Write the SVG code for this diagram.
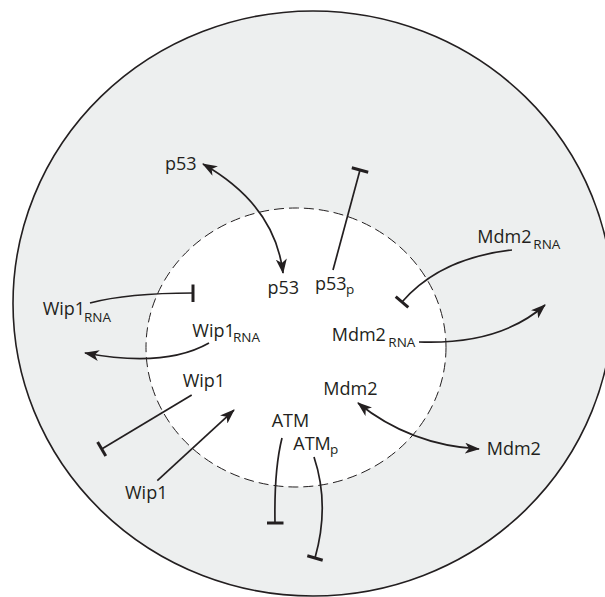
<svg xmlns="http://www.w3.org/2000/svg" width="605" height="597" viewBox="0 0 605 597">
<defs>
<style>
text{font-family:"Open Sans","Noto Sans","DejaVu Sans",sans-serif;font-size:18px;fill:#231f20}
.sub{font-size:13.5px}
.c{fill:none;stroke:#231f20;stroke-width:1.7}
.bar{fill:none;stroke:#231f20;stroke-width:3}
</style>
<marker id="arr" viewBox="0 0 15 11" refX="14" refY="5.5" markerWidth="15" markerHeight="11" markerUnits="userSpaceOnUse" orient="auto-start-reverse">
<path d="M0,0 L15,5.5 L0,11 L4,5.5 z" fill="#231f20"/>
</marker>
</defs>
<rect width="605" height="597" fill="#ffffff"/>
<g id="cell"><ellipse cx="313" cy="303.5" rx="300" ry="292.5" fill="#edefef" stroke="#231f20" stroke-width="1.6"/></g>
<g id="nucleus"><ellipse cx="296" cy="347.5" rx="150" ry="139.5" fill="#ffffff" stroke="#231f20" stroke-width="1" stroke-dasharray="10 5"/></g>
<g id="connectors">
<path class="c" d="M203,164 Q275,205 283,273" marker-start="url(#arr)" marker-end="url(#arr)"/>
<line class="c" x1="333" y1="270" x2="360" y2="170"/>
<line class="bar" x1="351.8" y1="167.8" x2="368.2" y2="172.2"/>
<path class="c" d="M512,250 Q440,258 402,302"/>
<line class="bar" x1="395.7" y1="296.6" x2="408.3" y2="307.4"/>
<path class="c" d="M419,342 Q500,345 545,305" marker-end="url(#arr)"/>
<path class="c" d="M358,403 Q410,445 479,449" marker-start="url(#arr)" marker-end="url(#arr)"/>
<path class="c" d="M90,303 C120,295 160,293 193,293"/>
<line class="bar" x1="193" y1="284.5" x2="193" y2="302"/>
<path class="c" d="M209,343 Q165,368 85,353" marker-end="url(#arr)"/>
<line class="c" x1="191.7" y1="395" x2="101.7" y2="449"/>
<line class="bar" x1="97.6" y1="442.1" x2="105.8" y2="455.9"/>
<line class="c" x1="157.3" y1="480.7" x2="234" y2="410" marker-end="url(#arr)"/>
<path class="c" d="M282,438 Q274,470 275,523"/>
<line class="bar" x1="267" y1="523" x2="283.5" y2="523"/>
<path class="c" d="M314,457 Q330,505 315,558"/>
<line class="bar" x1="307.3" y1="555.8" x2="322.7" y2="560.2"/>
</g>
<g id="p53-cyto"><text x="165" y="170">p53</text></g>
<g id="p53-nuc"><text x="267.5" y="294">p53</text></g>
<g id="p53p-nuc"><text x="315" y="290">p53</text><text class="sub" x="346" y="294">p</text></g>
<g id="wip1rna-cyto"><text x="42.7" y="315">Wip1</text><text class="sub" x="84" y="321.5">RNA</text></g>
<g id="wip1rna-nuc"><text x="192.3" y="336.7">Wip1</text><text class="sub" x="233" y="341.7">RNA</text></g>
<g id="wip1-nuc"><text x="182.7" y="386.5">Wip1</text></g>
<g id="wip1-cyto"><text x="125" y="499.3">Wip1</text></g>
<g id="atm-nuc"><text x="271.7" y="427.3">ATM</text></g>
<g id="atmp-nuc"><text x="293.3" y="450">ATM</text><text class="sub" x="330" y="454.3">p</text></g>
<g id="mdm2-nuc"><text x="323.3" y="395">Mdm2</text></g>
<g id="mdm2-cyto"><text x="486.7" y="455">Mdm2</text></g>
<g id="mdm2rna-nuc"><text x="331.7" y="340.7">Mdm2</text><text class="sub" x="388.3" y="346.7">RNA</text></g>
<g id="mdm2rna-cyto"><text x="477.3" y="243.3">Mdm2</text><text class="sub" x="533.3" y="249.3">RNA</text></g>
</svg>
